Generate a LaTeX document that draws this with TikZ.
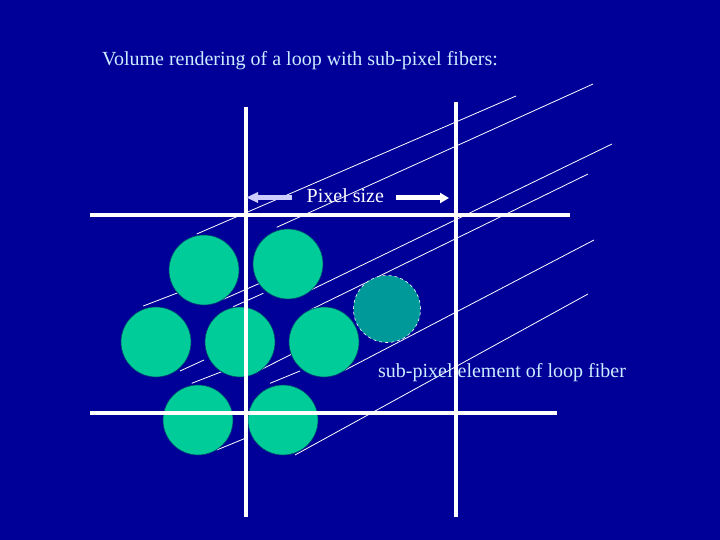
\documentclass[tikz,border=0pt]{standalone}
\usepackage{fontspec}
\setmainfont{Liberation Serif}
\usetikzlibrary{arrows.meta}
\definecolor{slideblue}{RGB}{0,0,153}
\definecolor{fibergreen}{RGB}{0,204,153}
\definecolor{fiberteal}{RGB}{0,153,153}
\definecolor{edgeteal}{RGB}{0,70,110}
\definecolor{labelblue}{RGB}{204,236,255}
\definecolor{lavender}{RGB}{204,204,255}

\begin{document}
\begin{tikzpicture}[x=1pt, y=-1pt]
\tikzstyle{fiber}=[circle, fill=fibergreen, draw=edgeteal, line width=0.6pt, minimum size=70pt, inner sep=0pt]
\tikzstyle{tube}=[white, line width=0.8pt]
\tikzstyle{gridline}=[white, line width=4pt]
\tikzstyle{label}=[inner sep=0pt, anchor=base west, font=\fontsize{20}{24}\selectfont]
    \fill [slideblue] (0,0) rectangle (720,540);
    % fiber outlines running off to the upper right
    \draw [tube] (196.7,234) -- (516,96);
    \draw [tube] (276.7,227.3) -- (593,84);
    \draw [tube] (143.3,306) -- (185,290);
    \draw [tube] (223.3,299.3) -- (263.3,281.7);
    \draw [tube] (233.3,306.7) -- (263.3,293.3);
    \draw [tube] (306.7,292) -- (612,144);
    \draw [tube] (310,310) -- (588,174);
    \draw [tube] (180,371) -- (204,360);
    \draw [tube] (191.7,383.3) -- (221.7,371.7);
    \draw [tube] (258.3,371) -- (293.3,353.3);
    \draw [tube] (270,383.3) -- (300,371);
    \draw [tube] (343.3,371) -- (594,240);
    \draw [tube] (216.7,450) -- (246,438);
    \draw [tube] (295,455) -- (588,294);
    % fiber cross sections
    \node [fiber] (a) at (204,270) {};
    \node [fiber] (b) at (288,264) {};
    \node [fiber] (c) at (156,342) {};
    \node [fiber] (d) at (240,342) {};
    \node [fiber] (e) at (324,342) {};
    \node [fiber] (f) at (198,420) {};
    \node [fiber] (g) at (283,420) {};
    \node [circle, fill=fiberteal, draw=white, dashed, line width=0.6pt,
           minimum size=67pt, inner sep=0pt] (s) at (387,309) {};
    % pixel grid
    \draw [gridline] (246,107) -- (246,517);
    \draw [gridline] (456,102) -- (456,517);
    \draw [gridline] (90,215) -- (570,215);
    \draw [gridline] (90,413) -- (557,413);
    % labels
    \node [label, text=labelblue] (title) at (102,66) {Volume rendering of a loop with sub-pixel fibers:};
    \node [label, text=white] (px) at (306.5,203) {Pixel size};
    \node [label, text=labelblue] (sub) at (378,377) {sub-pixel element of loop fiber};
    \coordinate (pl) at (292,197.5);
    \coordinate (pr) at (396,198);
    \draw [lavender, line width=4.5pt, -{Triangle[length=12pt, width=10pt]}] (pl) -- (246,197.5);
    \draw [white, line width=5pt, -{Triangle[length=9pt, width=10pt]}] (pr) -- (449,198);
\end{tikzpicture}
\end{document}
